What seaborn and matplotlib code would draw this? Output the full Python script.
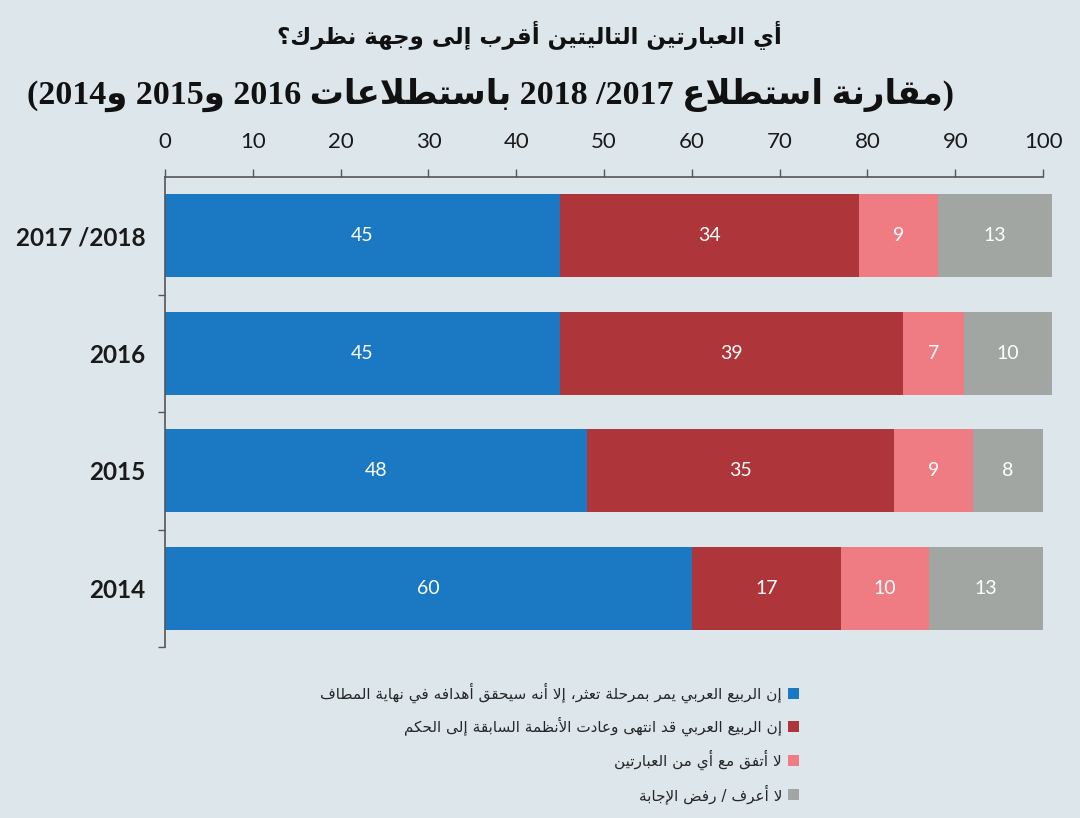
import re
import numpy as np
import matplotlib
matplotlib.use("Agg")
import matplotlib.pyplot as plt
import seaborn as sns

# ---------------- data ----------------
years = ["2017 /2018", "2016", "2015", "2014"]
spring_stalled = [45, 45, 48, 60]
spring_over = [34, 39, 35, 17]
agree_neither = [9, 7, 9, 10]
dont_know = [13, 10, 8, 13]
x_ticks = [0, 10, 20, 30, 40, 50, 60, 70, 80, 90, 100]

series_labels = [
    "إن الربيع العربي يمر بمرحلة تعثر، إلا أنه سيحقق أهدافه في نهاية المطاف",
    "إن الربيع العربي قد انتهى وعادت الأنظمة السابقة إلى الحكم",
    "لا أتفق مع أي من العبارتين",
    "لا أعرف / رفض الإجابة",
]
title_text = "أي العبارتين التاليتين أقرب إلى وجهة نظرك؟"
subtitle_text = "(مقارنة استطلاع 2017/ 2018 باستطلاعات 2016 و2015 و2014)"

colors = ["#1b79c3", "#ae3539", "#ef7c83", "#a2a6a2"]
bg = "#dde7eb"

# ---------------- Arabic shaping + right-to-left ordering ----------------
_BASE = {'ء': 0xFE80, 'آ': 0xFE81, 'أ': 0xFE83, 'ؤ': 0xFE85, 'إ': 0xFE87,
         'ئ': 0xFE89, 'ا': 0xFE8D, 'ب': 0xFE8F, 'ة': 0xFE93, 'ت': 0xFE95,
         'ث': 0xFE99, 'ج': 0xFE9D, 'ح': 0xFEA1, 'خ': 0xFEA5, 'د': 0xFEA9,
         'ذ': 0xFEAB, 'ر': 0xFEAD, 'ز': 0xFEAF, 'س': 0xFEB1, 'ش': 0xFEB5,
         'ص': 0xFEB9, 'ض': 0xFEBD, 'ط': 0xFEC1, 'ظ': 0xFEC5, 'ع': 0xFEC9,
         'غ': 0xFECD, 'ف': 0xFED1, 'ق': 0xFED5, 'ك': 0xFED9, 'ل': 0xFEDD,
         'م': 0xFEE1, 'ن': 0xFEE5, 'ه': 0xFEE9, 'و': 0xFEED, 'ى': 0xFEEF,
         'ي': 0xFEF1}
_DUAL = set("ئبتثجحخسشصضطظعغفقكلمنهي")
_LAM_ALEF = {'آ': 0xFEF5, 'أ': 0xFEF7, 'إ': 0xFEF9, 'ا': 0xFEFB}
_MIRROR = {'(': ')', ')': '('}


def _joinable(c):
    return c in _BASE and c != 'ء'


def _shape(text):
    text = re.sub('[\u064B-\u0652]', '', text)
    out, i, n = [], 0, len(text)
    while i < n:
        c = text[i]
        if c not in _BASE:
            out.append(c)
            i += 1
            continue
        prev = text[i - 1] if i > 0 else ''
        link_prev = prev in _DUAL and _joinable(c)
        if c == 'ل' and i + 1 < n and text[i + 1] in _LAM_ALEF:
            out.append(chr(_LAM_ALEF[text[i + 1]] + (1 if link_prev else 0)))
            i += 2
            continue
        nxt = text[i + 1] if i + 1 < n else ''
        link_next = c in _DUAL and _joinable(nxt)
        if c == 'ء':
            form = 0
        elif link_prev and link_next:
            form = 3
        elif link_prev:
            form = 1
        elif link_next:
            form = 2
        else:
            form = 0
        out.append(chr(_BASE[c] + form))
        i += 1
    return ''.join(out)


def rtl(text):
    tokens = re.findall(r'[0-9A-Za-z]+|.', _shape(text))
    return ''.join(_MIRROR.get(t, t) for t in reversed(tokens))


# ---------------- figure ----------------
sns.set_theme(style="white")
plt.rcParams['font.family'] = ['Lato', 'DejaVu Sans']

fig = plt.figure(figsize=(10.8, 8.18), dpi=100, facecolor=bg)
ax = fig.add_axes([0.1528, 0.209, 0.8293, 0.5746])
ax.set_facecolor(bg)

series = [spring_stalled, spring_over, agree_neither, dont_know]
left = np.zeros(len(years))
for vals, col in zip(series, colors):
    sns.barplot(x=vals, y=years, orient="h", color=col, saturation=1,
                width=0.71, left=left, ax=ax, linewidth=0)
    left = left + np.asarray(vals)

for cont, vals in zip(ax.containers, series):
    ax.bar_label(cont, labels=[str(v) for v in vals], label_type="center",
                 color="white", fontsize=14)

ax.set_xlim(0, 102)
ax.set_ylim(3.5, -0.5)
ax.xaxis.tick_top()
ax.set_xticks(x_ticks)
ax.set_xticklabels([str(t) for t in x_ticks], fontsize=16, color="#1a1a1a")
ax.tick_params(axis="x", direction="out", length=6, width=1, color="#555555",
               pad=12, top=True, bottom=False)
ax.set_xlabel("")
ax.set_ylabel("")

ax.set_yticks(range(len(years)))
ax.set_yticklabels(years, fontsize=17.5, fontweight="bold", color="#1a1a1a")
ax.set_yticks([0.5, 1.5, 2.5, 3.5], minor=True)
ax.tick_params(axis="y", which="major", length=0, pad=14)
ax.tick_params(axis="y", which="minor", length=5, width=1, color="#555555",
               left=True)

for side in ["right", "bottom"]:
    ax.spines[side].set_visible(False)
ax.spines["top"].set_bounds(0, 100)
ax.spines["top"].set_color("#555555")
ax.spines["top"].set_linewidth(1.2)
ax.spines["left"].set_color("#555555")
ax.spines["left"].set_linewidth(1.2)

# titles
fig.text(0.49, 0.957, rtl(title_text), ha="center", va="center",
         fontsize=16.5, fontweight="bold", family="DejaVu Sans", color="#111111")
fig.text(0.454, 0.884, rtl(subtitle_text), ha="center", va="center",
         fontsize=24.5, fontweight="bold",
         family=["Liberation Serif", "DejaVu Sans"], color="#111111")

# legend (square markers on the right of each label)
leg = ax.legend(handles=list(ax.containers),
                labels=[rtl(s) for s in series_labels],
                loc="upper right", bbox_to_anchor=(0.753, 0.182),
                bbox_transform=fig.transFigure, markerfirst=False,
                frameon=False, handlelength=0.75, handleheight=0.75,
                handletextpad=0.4, labelspacing=0.9,
                prop={"family": "DejaVu Sans", "size": 11})

fig.savefig("out.png", dpi=100, facecolor=bg)
